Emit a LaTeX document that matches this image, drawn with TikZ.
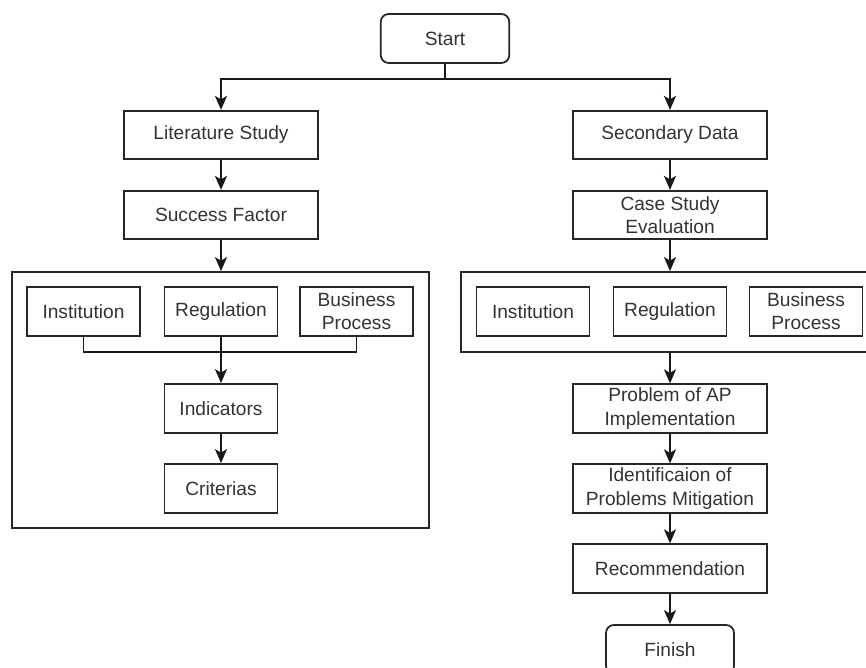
\documentclass[tikz,border=0pt]{standalone}
\usepackage{fontspec}
\setmainfont{Liberation Sans}
\usetikzlibrary{arrows.meta}

\begin{document}
\begin{tikzpicture}[
  x=0.02cm, y=-0.02cm,
  line width=1pt,
  every node/.style={draw=black!85, align=center, inner sep=0pt, text=black!80,
    font=\fontsize{10.9}{13.2}\selectfont},
  mainbox/.style={minimum width=3.88cm, minimum height=0.97cm},
  smallbox/.style={minimum width=2.26cm, minimum height=0.98cm},
  termbox/.style={rounded corners=4.5pt, minimum width=2.57cm, minimum height=0.98cm},
  arrow/.style={draw=black!90, -{Stealth[length=2.8mm, width=2.4mm, inset=0.7mm]}}
]
\useasboundingbox[fill=white] (0,0) rectangle (866,668);

% left column
\node[termbox] (start) at (445,38.5) {Start};
\node[mainbox] (lit) at (221,135) {Literature Study};
\node[mainbox] (succ) at (221,215) {Success Factor};
\node[minimum width=8.34cm, minimum height=5.12cm] (frameL) at (220.5,400) {};
\node[smallbox] (instL) at (83.5,311.5) {Institution};
\node[smallbox] (regL) at (221,311.5) {Regulation};
\node[smallbox] (busL) at (356.5,311.5) {Business\\Process};
\node[smallbox] (ind) at (221,408.5) {Indicators};
\node[smallbox] (crit) at (221,488.5) {Criterias};

% right column
\node[mainbox] (sec) at (670,135) {Secondary Data};
\node[mainbox] (case) at (670,215) {Case Study\\Evaluation};
\node[minimum width=8.5cm, minimum height=1.6cm] (frameR) at (673.5,312) {};
\node[smallbox] (instR) at (533,311.5) {Institution};
\node[smallbox] (regR) at (670,311.5) {Regulation};
\node[smallbox] (busR) at (806,311.5) {Business\\Process};
\node[mainbox] (prob) at (670,408.5) {Problem of AP\\Implementation};
\node[mainbox] (ident) at (670,488.5) {Identificaion of\\Problems Mitigation};
\node[mainbox] (recom) at (670,568.5) {Recommendation};
\node[termbox, minimum width=2.56cm] (finish) at (670,649.5) {Finish};

% connectors
\coordinate (split) at (445,79);
\coordinate (join) at (221,352);
\draw[black!90] (start) -- (split);
\draw[arrow] (split) -| (lit);
\draw[arrow] (split) -| (sec);
\draw[arrow] (lit) -- (succ);
\draw[arrow] (succ) -- (succ |- frameL.north);
\draw[black!90] (instL) |- (join);
\draw[black!90] (busL) |- (join);
\draw[arrow] (regL) -- (ind);
\draw[arrow] (ind) -- (crit);
\draw[arrow] (sec) -- (case);
\draw[arrow] (case) -- (case |- frameR.north);
\draw[arrow] (prob |- frameR.south) -- (prob);
\draw[arrow] (prob) -- (ident);
\draw[arrow] (ident) -- (recom);
\draw[arrow] (recom) -- (finish);

\end{tikzpicture}
\end{document}
